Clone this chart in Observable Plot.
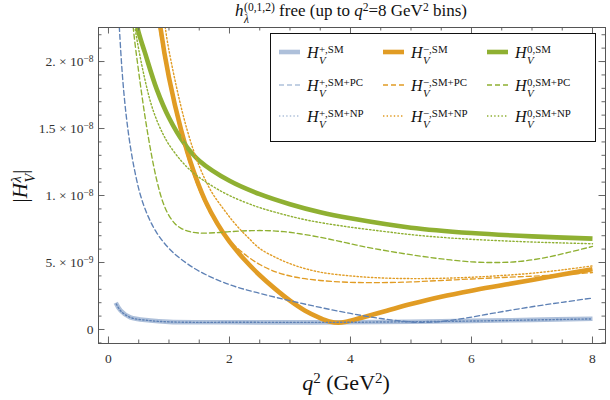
<!DOCTYPE html>
<html><head><meta charset="utf-8">
<script src="https://cdn.jsdelivr.net/npm/d3@7"></script>
<script src="https://cdn.jsdelivr.net/npm/@observablehq/plot@0.6"></script>
<style>
body{margin:0;background:#fff;}
#wrap{position:relative;width:610px;height:400px;font-family:"Liberation Serif",serif;color:#111;overflow:hidden;}
#wrap > svg{position:absolute;left:0;top:0;}
.abs{position:absolute;white-space:nowrap;line-height:1;}
.st{display:inline-flex;flex-direction:column;font-size:0.68em;line-height:1.0;vertical-align:0.42em;margin-left:0.04em;font-style:normal;}
.st > span{display:block;}
sup{font-size:0.68em;vertical-align:0.45em;line-height:0;}
#legend{position:absolute;left:270px;top:33px;width:326px;height:109px;border:1.5px solid #111;background:#fff;box-sizing:border-box;}
.lg{position:absolute;font-size:16px;line-height:1;white-space:nowrap;}
.lg svg{display:inline-block;}
</style>
</head><body>
<div id="wrap"></div>
<script>
// ---------- data (|H_V^λ| in units of 1e-9, q² in GeV²) ----------
const q_plusSM   = [0.12, 0.2, 0.36, 0.69, 1.0, 1.52, 2, 3, 4, 5, 6, 7, 8];
const H_plusSM   = [2.0, 1.42, 0.9, 0.67, 0.57, 0.54, 0.54, 0.53, 0.54, 0.58, 0.64, 0.72, 0.8];
const q_plusPC   = [0.15, 0.18, 0.22, 0.26, 0.3, 0.36, 0.44, 0.53, 0.65, 0.8, 1.0, 1.2, 1.5, 2.0, 2.5, 3.0, 3.5, 4.0, 4.5, 4.9, 5.2, 5.5, 5.9, 6.4, 7.0, 7.5, 8.0];
const H_plusPC   = [25, 22.5, 19.6, 17.4, 15.7, 13.7, 11.7, 10.0, 8.5, 7.2, 6.05, 5.25, 4.35, 3.35, 2.7, 2.15, 1.65, 1.2, 0.82, 0.6, 0.53, 0.6, 0.85, 1.25, 1.7, 2.03, 2.35];
const q_plusNP   = [0.13, 0.2, 0.36, 0.69, 1.0, 1.52, 2, 3, 4, 5, 6, 7, 8];
const H_plusNP   = [1.9, 1.4, 0.9, 0.66, 0.57, 0.53, 0.54, 0.53, 0.54, 0.58, 0.63, 0.71, 0.79];

const q_minusSM  = [0.8, 0.86, 1.0, 1.2, 1.4, 1.6, 1.8, 2.0, 2.25, 2.5, 2.75, 3.0, 3.25, 3.5, 3.65, 3.8, 3.95, 4.2, 4.6, 5.0, 5.5, 6.0, 6.5, 7.0, 7.5, 8.0];
const H_minusSM  = [25, 22.5, 18.8, 14.9, 11.9, 9.6, 7.9, 6.55, 5.2, 4.05, 3.05, 2.15, 1.4, 0.85, 0.6, 0.5, 0.6, 0.9, 1.4, 1.9, 2.45, 2.9, 3.3, 3.7, 4.1, 4.5];
const q_minusPC  = [0.78, 0.84, 1.0, 1.2, 1.4, 1.6, 1.8, 2.0, 2.2, 2.5, 2.8, 3.1, 3.5, 4.0, 4.5, 5.0, 5.5, 6.0, 6.5, 7.0, 7.5, 8.0];
const H_minusPC  = [25, 22.5, 18.5, 14.6, 11.6, 9.4, 7.8, 6.65, 5.8, 4.85, 4.25, 3.9, 3.66, 3.52, 3.5, 3.55, 3.66, 3.77, 3.88, 3.98, 4.1, 4.25];
const q_minusNP  = [0.9, 0.94, 1.1, 1.3, 1.5, 1.7, 1.9, 2.1, 2.3, 2.5, 2.8, 3.1, 3.5, 4.0, 4.5, 5.0, 5.5, 6.0, 6.5, 7.0, 7.5, 8.0];
const H_minusNP  = [25, 22.5, 18.6, 14.9, 12.2, 10.3, 9.0, 7.85, 6.9, 6.05, 5.3, 4.75, 4.28, 4.0, 3.85, 3.8, 3.82, 3.9, 4.03, 4.2, 4.45, 4.75];

const q_zeroSM   = [0.42, 0.48, 0.6, 0.8, 1.0, 1.25, 1.5, 2.0, 2.5, 3.0, 3.5, 4.0, 5.0, 6.0, 7.0, 8.0];
const H_zeroSM   = [24.5, 22.5, 20.7, 17.9, 15.8, 13.9, 12.6, 11.1, 10.1, 9.35, 8.75, 8.3, 7.6, 7.2, 6.95, 6.78];
const q_zeroPC   = [0.37, 0.41, 0.5, 0.6, 0.7, 0.8, 0.9, 1.0, 1.1, 1.2, 1.35, 1.5, 1.75, 2.0, 2.3, 2.6, 2.9, 3.2, 3.5, 3.8, 4.1, 4.4, 4.8, 5.2, 5.6, 6.0, 6.4, 6.8, 7.2, 7.6, 8.0];
const H_zeroPC   = [25, 22.5, 19.2, 16.0, 13.3, 11.1, 9.5, 8.5, 7.9, 7.55, 7.3, 7.2, 7.22, 7.3, 7.37, 7.38, 7.3, 7.12, 6.88, 6.6, 6.3, 6.03, 5.72, 5.45, 5.22, 5.05, 5.0, 5.08, 5.35, 5.75, 6.2];
const q_zeroNP   = [0.4, 0.44, 0.5, 0.6, 0.7, 0.8, 0.9, 1.0, 1.2, 1.4, 1.7, 2.0, 2.4, 2.8, 3.3, 3.9, 4.5, 5.0, 5.5, 6.0, 6.5, 7.0, 7.5, 8.0];
const H_zeroNP   = [24, 22.5, 20.9, 18.7, 16.9, 15.6, 14.6, 13.8, 12.6, 11.7, 10.75, 10.0, 9.25, 8.7, 8.15, 7.7, 7.35, 7.08, 6.88, 6.73, 6.62, 6.53, 6.46, 6.4];

const xTicks = [0, 2, 4, 6, 8];
const yTicks = [0, 5, 10, 15, 20];
const yTickText = ["0", "5. × 10^−9", "1. × 10^−8", "1.5 × 10^−8", "2. × 10^−8"];

// ---------- styling ----------
const BLUE = "#5e81b5", ORANGE = "#e19c24", GREEN = "#8fb032";
const W = 610, H = 400, ML = 98, MR = 5, MT = 27, MB = 57;
const innerW = W - ML - MR, innerH = H - MT - MB;

function line(q, h, o) {
  const data = q.map((x, i) => ({q: x, h: h[i]}));
  return Plot.line(data, {x: "q", y: "h", curve: "catmull-rom", clip: true, ...o});
}
const thick = {strokeWidth: 4.6, strokeLinecap: "butt"};
const dashed = {strokeWidth: 1.35, strokeDasharray: "5,3"};
const dotted = {strokeWidth: 1.4, strokeDasharray: "1.4,2.2"};

const minorX = d3.range(0, 8.001, 0.5);
const minorY = d3.range(-1, 22.001, 1);
const TC = "#666";

const plot = Plot.plot({
  width: W, height: H,
  marginLeft: ML, marginRight: MR, marginTop: MT, marginBottom: MB,
  style: {fontFamily: "Liberation Serif, serif", fontSize: "13.5px", color: "#333", background: "transparent"},
  x: {domain: [-0.165, 8.215], label: null},
  y: {domain: [-1.045, 22.54], label: null},
  marks: [
    line(q_plusSM, H_plusSM, {stroke: BLUE, strokeOpacity: 0.5, ...thick}),
    line(q_minusSM, H_minusSM, {stroke: ORANGE, ...thick}),
    line(q_zeroSM, H_zeroSM, {stroke: GREEN, ...thick}),
    line(q_plusPC, H_plusPC, {stroke: BLUE, ...dashed}),
    line(q_minusPC, H_minusPC, {stroke: ORANGE, ...dashed}),
    line(q_zeroPC, H_zeroPC, {stroke: GREEN, ...dashed}),
    line(q_plusNP, H_plusNP, {stroke: BLUE, ...dotted}),
    line(q_minusNP, H_minusNP, {stroke: ORANGE, ...dotted}),
    line(q_zeroNP, H_zeroNP, {stroke: GREEN, ...dotted}),
    // inward frame ticks
    Plot.tickX(minorX, {x: d => d, stroke: TC, insetTop: innerH - 3.5}),
    Plot.tickX(xTicks, {x: d => d, stroke: TC, insetTop: innerH - 6.5}),
    Plot.tickX(minorX, {x: d => d, stroke: TC, insetBottom: innerH - 3.5}),
    Plot.tickX(xTicks, {x: d => d, stroke: TC, insetBottom: innerH - 6.5}),
    Plot.tickY(minorY, {y: d => d, stroke: TC, insetRight: innerW - 3.5}),
    Plot.tickY(yTicks, {y: d => d, stroke: TC, insetRight: innerW - 6.5}),
    Plot.tickY(minorY, {y: d => d, stroke: TC, insetLeft: innerW - 3.5}),
    Plot.tickY(yTicks, {y: d => d, stroke: TC, insetLeft: innerW - 6.5}),
    Plot.axisX({ticks: xTicks, tickSize: 0, tickPadding: 10, label: null, tickFormat: d => String(d)}),
    Plot.axisY({ticks: yTicks, tickSize: 0, tickPadding: 5, label: null,
      tickFormat: d => yTickText[yTicks.indexOf(d)]}),
    Plot.frame({stroke: "#555", strokeWidth: 1})
  ]
});

// superscript exponents in y tick labels
plot.querySelectorAll('[aria-label="y-axis tick label"] text').forEach(t => {
  const s = t.textContent;
  if (s.includes("^")) {
    const [m, e] = s.split("^");
    while (t.firstChild) t.removeChild(t.firstChild);
    const a = document.createElementNS("http://www.w3.org/2000/svg", "tspan");
    a.textContent = m;
    const b = document.createElementNS("http://www.w3.org/2000/svg", "tspan");
    b.textContent = e; b.setAttribute("dy", "-0.45em"); b.setAttribute("font-size", "9.5px");
    t.appendChild(a); t.appendChild(b);
  }
});

const wrap = document.getElementById("wrap");
wrap.appendChild(plot);

function addDiv(html, css) {
  const d = document.createElement("div");
  d.className = "abs"; d.innerHTML = html; d.style.cssText += css;
  wrap.appendChild(d); return d;
}
addDiv('<i>h</i><span class="st"><span>(0,1,2)</span><span><i>λ</i></span></span> free (up to <i>q</i><sup>2</sup>=8 GeV<sup>2</sup> bins)',
  "left:351px;top:2px;transform:translateX(-50%);font-size:17px;");
addDiv('<i>q</i><sup>2</sup> (GeV<sup>2</sup>)', "left:346px;top:372px;transform:translateX(-50%);font-size:22px;");
addDiv('|<i>H</i><span class="st"><span><i>λ</i></span><span><i>V</i></span></span>|',
  "left:23px;top:186px;transform:translate(-50%,-50%) rotate(-90deg);font-size:21px;");

// legend
const legend = document.createElement("div");
legend.id = "legend";
wrap.appendChild(legend);
const legCols = [{c: BLUE, s: "+", op: 0.5}, {c: ORANGE, s: "−", op: 1}, {c: GREEN, s: "0", op: 1}];
const legRows = [{tag: "SM", st: thick}, {tag: "SM+PC", st: dashed}, {tag: "SM+NP", st: dotted}];
const colX = [8, 112, 216], rowY = [24, 57, 88];
legRows.forEach((r, ri) => legCols.forEach((c, ci) => {
  const d = document.createElement("div");
  d.className = "lg";
  d.style.left = colX[ci] + "px"; d.style.top = (rowY[ri] - 14) + "px";
  const dash = r.st.strokeDasharray ? `stroke-dasharray="${r.st.strokeDasharray}"` : "";
  d.innerHTML = `<svg width="21" height="10" style="vertical-align:1px;margin-right:7px"><line x1="0" x2="21" y1="5" y2="5" stroke="${c.c}" stroke-opacity="${c.op}" stroke-width="${r.st.strokeWidth}" ${dash}/></svg><i>H</i><span class="st"><span>${c.s},${r.tag}</span><span><i>V</i></span></span>`;
  legend.appendChild(d);
}));
</script>
</body></html>
